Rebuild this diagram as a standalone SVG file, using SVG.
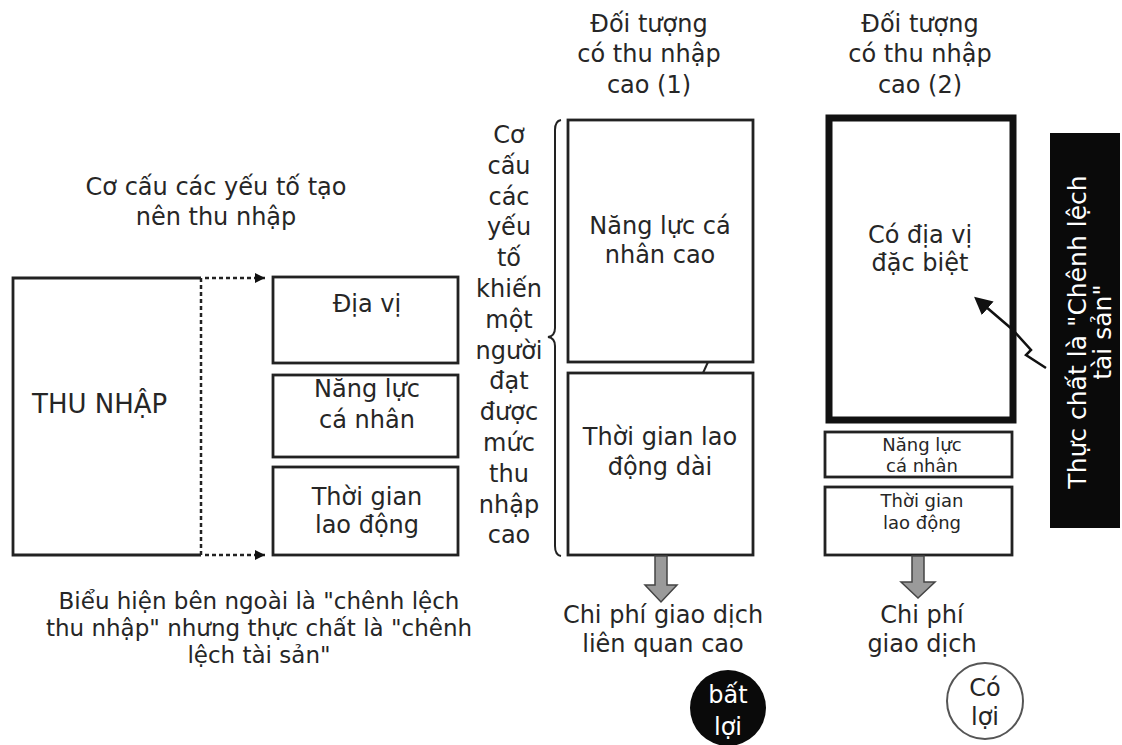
<svg xmlns="http://www.w3.org/2000/svg" width="1122" height="745" viewBox="0 0 1122 745">
<defs>
<style>
.t{font-family:"DejaVu Sans","Liberation Sans",sans-serif;font-size:24px;fill:#262626;text-anchor:middle}
.s{font-size:18px}
.w{fill:#fff}
.box{fill:#fff;stroke:#222;stroke-width:2.8}
.thick{fill:#fff;stroke:#111;stroke-width:7}
.dot{fill:none;stroke:#222;stroke-width:2.5;stroke-dasharray:4 3}
.ln{fill:none;stroke:#222;stroke-width:2.8}
.garrow{fill:#9a9a9a;stroke:#444;stroke-width:1.5}
</style>
<marker id="ah" viewBox="0 0 10 10" refX="10" refY="5" markerWidth="10" markerHeight="10" markerUnits="userSpaceOnUse" orient="auto">
<path d="M0,0 L10,5 L0,10 z" fill="#111"/>
</marker>
<marker id="ah2" viewBox="0 0 10 10" refX="2" refY="5" markerWidth="18" markerHeight="18" markerUnits="userSpaceOnUse" orient="auto">
<path d="M0,0 L10,5 L0,10 z" fill="#111"/>
</marker>
</defs>
<rect width="1122" height="745" fill="#fff"/>

<g id="label-structure">
<text class="t" x="216" y="195">Cơ cấu các yếu tố tạo</text>
<text class="t" x="216" y="225">nên thu nhập</text>
</g>

<g id="node-thunhap">
<path class="ln" d="M201,278 L13,278 L13,555 L201,555"/>
<line class="dot" x1="201" y1="278" x2="201" y2="555"/>
<text class="t" x="32" y="413" style="text-anchor:start;font-size:26px">THU NHẬP</text>
</g>

<g id="node-diavi">
<rect class="box" x="273" y="277" width="185" height="86"/>
<text class="t" x="367" y="312">Địa vị</text>
</g>
<g id="node-nangluc">
<rect class="box" x="273" y="375" width="185" height="82"/>
<text class="t" x="367" y="397">Năng lực</text>
<text class="t" x="367" y="428">cá nhân</text>
</g>
<g id="node-thoigian">
<rect class="box" x="273" y="467" width="185" height="88"/>
<text class="t" x="367" y="505">Thời gian</text>
<text class="t" x="367" y="533">lao động</text>
</g>

<g id="label-bieuhien">
<text class="t" x="259" y="609" style="font-size:23px">Biểu hiện bên ngoài là "chênh lệch</text>
<text class="t" x="259" y="636" style="font-size:23px">thu nhập" nhưng thực chất là "chênh</text>
<text class="t" x="259" y="663" style="font-size:23px">lệch tài sản"</text>
</g>

<g id="header-1">
<text class="t" x="649" y="32">Đối tượng</text>
<text class="t" x="649" y="62">có thu nhập</text>
<text class="t" x="649" y="93">cao (1)</text>
</g>

<g id="label-cocau-vertical">
<text class="t" x="509" y="143">Cơ</text>
<text class="t" x="509" y="174">cấu</text>
<text class="t" x="509" y="205">các</text>
<text class="t" x="509" y="235">yếu</text>
<text class="t" x="509" y="266">tố</text>
<text class="t" x="509" y="297">khiến</text>
<text class="t" x="509" y="328">một</text>
<text class="t" x="509" y="359">người</text>
<text class="t" x="509" y="389">đạt</text>
<text class="t" x="509" y="420">được</text>
<text class="t" x="509" y="451">mức</text>
<text class="t" x="509" y="482">thu</text>
<text class="t" x="509" y="513">nhập</text>
<text class="t" x="509" y="543">cao</text>
</g>

<g id="brace-1">
<path class="ln" d="M561,120 Q555,121 555,130 L555,328 Q555,336 548,337 Q555,338 555,346 L555,546 Q555,555 561,556" style="stroke-width:2"/>
</g>

<g id="node-nanglucao">
<rect class="box" x="568" y="120" width="185" height="242"/>
<text class="t" x="660" y="234">Năng lực cá</text>
<text class="t" x="660" y="263">nhân cao</text>
</g>
<g id="node-thoigiandai">
<rect class="box" x="568" y="373" width="185" height="182"/>
<text class="t" x="660" y="445">Thời gian lao</text>
<text class="t" x="660" y="475">động dài</text>
</g>

<g id="header-2">
<text class="t" x="920" y="32">Đối tượng</text>
<text class="t" x="920" y="62">có thu nhập</text>
<text class="t" x="920" y="93">cao (2)</text>
</g>

<g id="node-codiavi">
<rect class="thick" x="829" y="118" width="184" height="302"/>
<text class="t" x="920" y="243">Có địa vị</text>
<text class="t" x="920" y="271">đặc biệt</text>
</g>
<g id="node-nangluc2">
<rect class="box" x="825" y="432" width="187" height="45"/>
<text class="t s" x="922" y="451">Năng lực</text>
<text class="t s" x="922" y="472">cá nhân</text>
</g>
<g id="node-thoigian2">
<rect class="box" x="825" y="487" width="187" height="68"/>
<text class="t s" x="922" y="507">Thời gian</text>
<text class="t s" x="922" y="529">lao động</text>
</g>

<g id="node-thucchat">
<rect x="1050" y="133" width="70" height="395" fill="#0a0a0a"/>
<text class="t w" transform="translate(1086,332) rotate(-90)" style="font-size:25px">Thực chất là "Chênh lệch</text>
<text class="t w" transform="translate(1111,332) rotate(-90)" style="font-size:25px">tài sản"</text>
</g>

<g id="node-chiphi1">
<text class="t" x="663" y="623">Chi phí giao dịch</text>
<text class="t" x="663" y="652">liên quan cao</text>
</g>
<g id="node-batloi">
<circle cx="728" cy="708" r="38" fill="#0a0a0a"/>
<text class="t w" x="728" y="703">bất</text>
<text class="t w" x="728" y="735">lợi</text>
</g>

<g id="node-chiphi2">
<text class="t" x="922" y="623">Chi phí</text>
<text class="t" x="922" y="652">giao dịch</text>
</g>
<g id="node-coloi">
<circle cx="985" cy="701" r="38" fill="#fff" stroke="#555" stroke-width="2"/>
<text class="t" x="985" y="696">Có</text>
<text class="t" x="985" y="725">lợi</text>
</g>

<g id="connectors">
<line class="dot" x1="205" y1="278" x2="265" y2="278" marker-end="url(#ah)"/>
<line class="dot" x1="205" y1="555" x2="265" y2="555" marker-end="url(#ah)"/>
<line x1="703" y1="373" x2="708" y2="362" stroke="#222" stroke-width="2"/>
<path class="garrow" d="M655,556 L667,556 L667,585 L677,585 L661,602 L645,585 L655,585 Z"/>
<path class="garrow" d="M912,556 L924,556 L924,582 L935,582 L918,598 L901,582 L912,582 Z"/>
<path d="M1046,368 L1026,355 L1031,350 L1013,330 L985,306" fill="none" stroke="#111" stroke-width="2.5" marker-end="url(#ah2)"/>
</g>
</svg>
